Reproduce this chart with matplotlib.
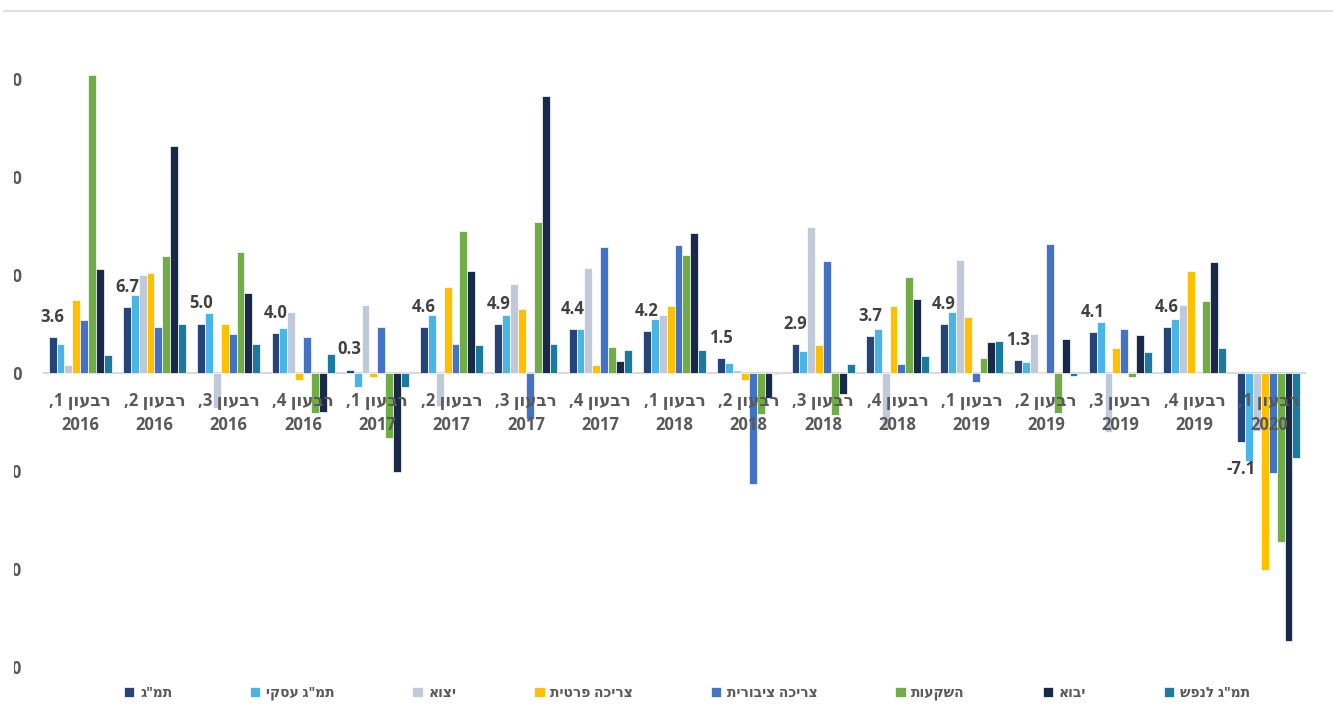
import re
import numpy as np
import matplotlib
matplotlib.use("Agg")
import matplotlib.pyplot as plt
from matplotlib.lines import Line2D
from matplotlib.transforms import Bbox

# ---------------- data ----------------
quarters = ["רבעון 1, 2016", "רבעון 2, 2016", "רבעון 3, 2016", "רבעון 4, 2016",
            "רבעון 1, 2017", "רבעון 2, 2017", "רבעון 3, 2017", "רבעון 4, 2017",
            "רבעון 1, 2018", "רבעון 2, 2018", "רבעון 3, 2018", "רבעון 4, 2018",
            "רבעון 1, 2019", "רבעון 2, 2019", "רבעון 3, 2019", "רבעון 4, 2019",
            "רבעון 1, 2020"]

series_names = ['תמ"ג', 'תמ"ג עסקי', 'יצוא', 'צריכה פרטית',
                'צריכה ציבורית', 'השקעות', 'יבוא', 'תמ"ג לנפש']

gdp         = [3.6, 6.7, 5.0, 4.0, 0.3, 4.6, 4.9, 4.4, 4.2, 1.5, 2.9, 3.7, 4.9, 1.3, 4.1, 4.6, -7.1]
gdp_business = [2.9, 7.9, 6.1, 4.5, -1.5, 5.9, 5.9, 4.4, 5.5, 1.0, 2.2, 4.4, 6.2, 1.1, 5.2, 5.5, -9.0]
exports     = [0.8, 10.0, -3.6, 6.2, 6.9, -3.4, 9.0, 10.7, 5.9, 0.3, 14.8, -5.8, 11.5, 3.9, -6.1, 6.9, -6.0]
private_cons = [7.4, 10.2, 5.0, -0.8, -0.5, 8.7, 6.5, 0.8, 6.8, -0.8, 2.8, 6.8, 5.7, -0.2, 2.5, 10.4, -20.2]
public_cons = [5.4, 4.6, 3.9, 3.6, 4.6, 2.9, -4.7, 12.8, 13.0, -11.4, 11.4, 0.9, -1.0, 13.1, 4.4, 0.0, -10.3]
investment  = [30.4, 11.9, 12.3, -4.1, -6.7, 14.4, 15.4, 2.6, 12.0, -4.2, -4.3, 9.7, 1.5, -4.1, -0.5, 7.3, -17.3]
imports     = [10.6, 23.1, 8.1, -4.0, -10.2, 10.4, 28.2, 1.2, 14.2, -2.6, -2.2, 7.5, 3.1, 3.4, 3.8, 11.3, -27.4]
gdp_per_cap = [1.8, 4.9, 2.9, 1.9, -1.5, 2.8, 2.9, 2.3, 2.3, -0.2, 0.9, 1.7, 3.2, -0.4, 2.1, 2.5, -8.7]

gdp_labels = ["3.6", "6.7", "5.0", "4.0", "0.3", "4.6", "4.9", "4.4", "4.2",
              "1.5", "2.9", "3.7", "4.9", "1.3", "4.1", "4.6", "-7.1"]

y_ticks = [30, 20, 10, 0, -10, -20, -30]

colors = ["#264478", "#48B5E6", "#BFC9D9", "#FFC000",
          "#4472C4", "#70AD47", "#18294A", "#1A7AA0"]


def visual(s):
    """Simple visual reordering for right-to-left Hebrew text."""
    tokens = re.findall(r"[0-9]+|[^0-9]+", s)
    out = []
    for t in reversed(tokens):
        out.append(t if t.isdigit() else t[::-1])
    return "".join(out)


def cat_label(s):
    first, second = s.split(", ")
    return visual(first + ",") + "\n" + second


all_series = [gdp, gdp_business, exports, private_cons,
              public_cons, investment, imports, gdp_per_cap]

FONT = ["Open Sans", "DejaVu Sans"]
plt.rcParams["font.family"] = FONT

W, H = 1333, 720
fig = plt.figure(figsize=(W / 100, H / 100), dpi=100)
ax_left, ax_right = 43 / W, 1306 / W
ymin, ymax = -31, 31
zero_px, px_per = 372.5, 9.8
top_px = zero_px - ymax * px_per
bot_px = zero_px - ymin * px_per
ax = fig.add_axes([ax_left, 1 - bot_px / H, ax_right - ax_left, (bot_px - top_px) / H])
ax.set_axisbelow(False)

x = np.arange(len(quarters))
bw = 0.106
for i, (vals, c, name) in enumerate(zip(all_series, colors, series_names)):
    ax.bar(x + (i - 3.5) * bw, vals, width=bw, color=c,
           edgecolor="white", linewidth=0.5, label=visual(name), zorder=2)

# data labels for GDP
for xi, v, lab in zip(x, gdp, gdp_labels):
    xb = xi - 3.5 * bw
    if v >= 0:
        ax.annotate(lab, (xb, v), xytext=(0, 8), textcoords="offset points",
                    ha="center", va="bottom", fontsize=12, fontweight="bold",
                    color="#404040", zorder=5)
    else:
        ax.annotate(lab, (xb, v), xytext=(0, -13), textcoords="offset points",
                    ha="center", va="top", fontsize=12, fontweight="bold",
                    color="#404040", zorder=5)

ax.axhline(0, color="#D9D9D9", lw=1.5, zorder=1)
ax.set_xlim(-0.5, len(quarters) - 0.5)
ax.set_ylim(ymin, ymax)
for sp in ax.spines.values():
    sp.set_color("none")
ax.spines["bottom"].set_position(("data", 0))

ax.set_xticks(x)
ax.set_xticklabels([cat_label(q) for q in quarters], fontsize=12,
                   fontweight="bold", color="#595959", linespacing=1.45)
ax.tick_params(axis="x", length=0, pad=14)

ax.set_yticks(y_ticks)
ax.set_yticklabels([str(v) for v in y_ticks], fontsize=12, fontweight="bold",
                   color="#595959")
ax.tick_params(axis="y", length=0, pad=15)

leg = ax.legend(loc="center", bbox_to_anchor=(687 / W, 1 - 693 / H),
                bbox_transform=fig.transFigure, ncol=8, frameon=False,
                handlelength=0.75, handleheight=0.75, handletextpad=0.4,
                columnspacing=5.6, prop={"size": 10, "weight": "bold", "family": FONT})
for t in leg.get_texts():
    t.set_color("#595959")

fig.add_artist(Line2D([4 / W, 1.0], [1 - 10.5 / H, 1 - 10.5 / H],
                      color="#D9D9D9", lw=1.2, transform=fig.transFigure))

# the reference shows the y labels cut by the left edge: only the last digit remains
fig.canvas.draw()
renderer = fig.canvas.get_renderer()
for t in ax.get_yticklabels():
    ext = t.get_window_extent(renderer)
    w0, _, _ = renderer.get_text_width_height_descent("0", t.get_fontproperties(), ismath=False)
    left = ext.x1 - w0 + 1.0
    t.set_clip_box(Bbox([[left, 0], [W, H]]))
    t.set_clip_on(True)

fig.savefig("out.png", dpi=100)
